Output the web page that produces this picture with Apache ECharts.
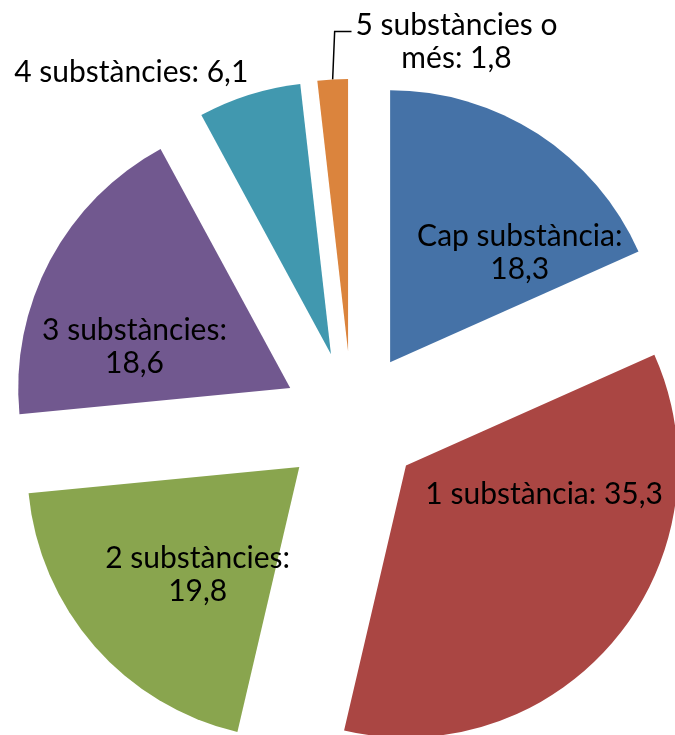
<!DOCTYPE html>
<html>
<head>
<meta charset="utf-8">
<script src="https://cdn.jsdelivr.net/npm/echarts@6/dist/echarts.min.js"></script>
<style>html,body{margin:0;padding:0;background:#fff}#c{width:675px;height:735px}</style>
</head>
<body>
<div id="c"></div>
<script>
const categories = ['Cap substància', '1 substància', '2 substàncies', '3 substàncies', '4 substàncies', '5 substàncies o més'];
const values = [18.3, 35.3, 19.8, 18.6, 6.1, 1.8];
const labelTexts = ['Cap substància:\n18,3', '1 substància: 35,3', '2 substàncies:\n19,8', '3 substàncies:\n18,6', '4 substàncies: 6,1', '5 substàncies o\nmés: 1,8'];
const colors = ['#4572A7', '#AA4643', '#89A54E', '#71588F', '#4198AF', '#DB843D'];
const labelPositions = ['inside', 'inside', 'inside', 'inside', 'outside', 'outside'];
const labelShift = [[54, 7], [31, -60], [3, 16], [-33, 24], [20, -3], [140, -18]];
const labelAlign = [null, null, null, null, null, 'center'];

const chart = echarts.init(document.getElementById('c'), null, {renderer: 'canvas'});
chart.setOption({
  animation: false,
  series: [{
    type: 'pie',
    center: [352, 421],
    radius: 272,
    startAngle: 90,
    clockwise: true,
    selectedMode: 'multiple',
    selectedOffset: 70,
    avoidLabelOverlap: false,
    emphasis: {disabled: true},
    label: {
      fontFamily: 'Lato',
      fontSize: 30,
      lineHeight: 33,
      color: '#000',
      align: 'center'
    },
    labelLine: {show: false, lineStyle: {color: '#000', width: 1.5}},
    labelLayout: function (p) {
      const i = p.dataIndex;
      const s = labelShift[i];
      const out = {dx: s[0], dy: s[1]};
      if (labelAlign[i]) out.align = labelAlign[i];
      if (i === 5 && p.labelLinePoints && p.labelRect) {
        const p0 = p.labelLinePoints[0];
        const left = p.labelRect.x + p.labelRect.width / 2 + s[0];
        const y = p.labelRect.y + s[1] + 23;
        out.labelLinePoints = [[p0[0], p0[1]], [p0[0] + 2, y], [left - 4, y]];
      }
      return out;
    },
    data: categories.map((name, i) => ({
      name: name,
      value: values[i],
      selected: true,
      itemStyle: {color: colors[i]},
      label: {position: labelPositions[i], formatter: labelTexts[i]},
      labelLine: {show: i === 5, length: 20, length2: 10}
    }))
  }]
});
</script>
</body>
</html>
